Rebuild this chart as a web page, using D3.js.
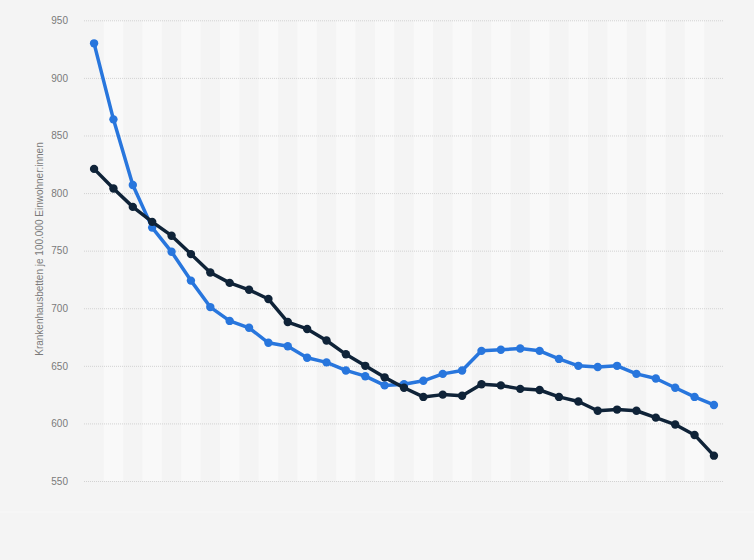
<!DOCTYPE html>
<html>
<head>
<meta charset="utf-8">
<script src="https://cdn.jsdelivr.net/npm/d3@7/dist/d3.min.js"></script>
<style>
  html, body { margin: 0; padding: 0; background: #f4f4f4; }
  svg { display: block; font-family: "Liberation Sans", Arial, sans-serif; }
</style>
</head>
<body>
<svg id="chart" width="754" height="560"></svg>
<script>
// one entry per year, 33 years, x labels not shown in the original
const years = d3.range(33);
const yTicks = [550, 600, 650, 700, 750, 800, 850, 900, 950];

const seriesBlue = [930, 864, 807, 770, 749, 724, 701, 689, 683, 670, 667, 657, 653, 646, 641, 633, 634, 637,
  643, 646, 663, 664, 665, 663, 656, 650, 649, 650, 643, 639, 631, 623, 616];
const seriesDark = [821, 804, 788, 775, 763, 747, 731, 722, 716, 708, 688, 682, 672, 660, 650, 640, 631, 623,
  625, 624, 634, 633, 630, 629, 623, 619, 611, 612, 611, 605, 599, 590, 572];

const svg = d3.select('#chart');
const plotLeft = 84, plotRight = 724, plotTop = 20.3, plotBottom = 481;

const x = d3.scaleBand()
  .domain(years)
  .range([plotLeft, plotRight])
  .paddingInner(0)
  .paddingOuter(0.02);
const y = d3.scaleLinear().domain([550, 950]).range([plotBottom, plotTop]);
const cx = d => x(d) + x.bandwidth() / 2;

// alternating column stripes
svg.append('g')
  .selectAll('rect')
  .data(years.filter(d => d % 2 === 1))
  .join('rect')
  .attr('x', d => x(d))
  .attr('y', plotTop)
  .attr('width', x.bandwidth())
  .attr('height', plotBottom - plotTop)
  .attr('fill', '#f9f9f9');

// faint lower band
svg.append('line')
  .attr('x1', 0).attr('x2', 754)
  .attr('y1', 512).attr('y2', 512)
  .attr('stroke', '#f8f8f8');

// grid + tick labels
const yAxis = svg.append('g')
  .attr('transform', `translate(${plotLeft},0)`)
  .call(d3.axisLeft(y).tickValues(yTicks).tickSize(-(plotRight - plotLeft)).tickPadding(16));
yAxis.select('.domain').remove();
yAxis.selectAll('.tick line')
  .attr('stroke', '#d2d2d2')
  .attr('stroke-dasharray', '1,1');
yAxis.selectAll('.tick text')
  .attr('fill', '#7a7a7a')
  .attr('font-size', 10);

svg.append('text')
  .attr('transform', `translate(43,${(145 + 353) / 2}) rotate(-90)`)
  .attr('text-anchor', 'middle')
  .attr('font-size', 10)
  .attr('fill', '#7a7a7a')
  .text('Krankenhausbetten je 100.000 Einwohner:innen');

const line = d3.line().x((d, i) => cx(years[i])).y(d => y(d));

function drawSeries(values, color) {
  const g = svg.append('g');
  g.append('path')
    .datum(values)
    .attr('d', line)
    .attr('fill', 'none')
    .attr('stroke', color)
    .attr('stroke-width', 3.5)
    .attr('stroke-linejoin', 'round');
  g.selectAll('circle')
    .data(values)
    .join('circle')
    .attr('cx', (d, i) => cx(years[i]))
    .attr('cy', d => y(d))
    .attr('r', 4.2)
    .attr('fill', color);
}

drawSeries(seriesBlue, '#2876dd');
drawSeries(seriesDark, '#0f2338');
</script>
</body>
</html>
